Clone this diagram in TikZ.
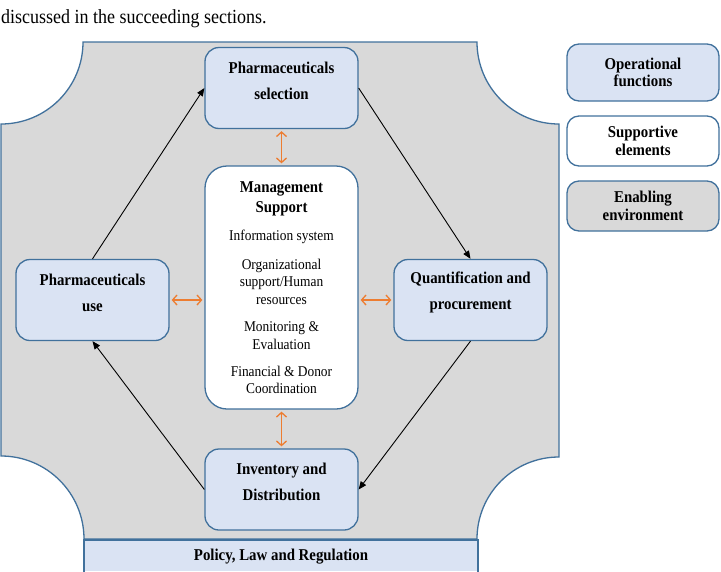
\documentclass[tikz,border=0pt]{standalone}
\usepackage{fontspec}
\setmainfont{Liberation Serif}[FakeStretch=0.9]
\usetikzlibrary{arrows.meta}
\definecolor{edge}{RGB}{65,113,156}
\definecolor{envfill}{RGB}{217,217,217}
\definecolor{opfill}{RGB}{218,227,243}
\definecolor{orng}{RGB}{237,125,49}
\begin{document}
\begin{tikzpicture}[x=1pt,y=-1pt,
  basebox/.style={draw=edge, line width=1.3pt, inner sep=0pt, minimum width=153pt},
  opbox/.style={basebox, fill=opfill, rounded corners=14pt, minimum height=81pt},
  supbox/.style={basebox, fill=white, rounded corners=22pt, minimum height=243pt},
  legbox/.style={basebox, rounded corners=12pt, minimum width=152pt, align=center,
    font=\fontsize{16.5}{17.5}\selectfont\bfseries},
  btxt/.style={align=center, inner sep=0pt, font=\fontsize{16.5}{26}\selectfont\bfseries},
  bstxt/.style={align=center, inner sep=0pt, font=\fontsize{16.5}{19.5}\selectfont\bfseries},
  ntxt/.style={align=center, inner sep=0pt, font=\fontsize{14.9}{17.5}\selectfont},
  flow/.style={-{Triangle[length=8pt,width=6.5pt]}, line width=0.9pt},
  link/.style={{Straight Barb[length=4.5pt,width=10pt]}-{Straight Barb[length=4.5pt,width=10pt]},
    draw=orng, line width=1.3pt, shorten <=2pt, shorten >=2pt}]
\useasboundingbox (0,0) rectangle (721,571);

% top text
\node[anchor=west, inner sep=0pt, font=\fontsize{20}{24}\selectfont] (intro) at (1,18.5)
  {discussed in the succeeding sections.};

% enabling environment (plaque with concave corners)
\path[fill=envfill, draw=edge, line width=1.3pt]
  (83,42) -- (477,42)
  .. controls (477,87.3) and (513.7,124) .. (559,124)
  -- (559,457)
  .. controls (513.7,457) and (477,493.7) .. (477,539)
  -- (84,539)
  .. controls (84,493.2) and (46.8,456) .. (1,456)
  -- (1,124)
  .. controls (46.3,124) and (83,87.3) .. (83,42) -- cycle;

% policy bar
\fill[opfill] (84,540) rectangle (478,571);
\draw[edge, line width=1.3pt] (84,572) -- (84,540) -- (478,540) -- (478,572);
\node[btxt] (policy) at (281,557) {Policy, Law and Regulation};

% operational boxes
\node[opbox] (sel) at (281.5,88) {};
\node[btxt] (seltxt) at (281.5,80.5) {Pharmaceuticals\\selection};
\node[opbox] (use) at (92.5,300) {};
\node[btxt] (usetxt) at (92.5,292.5) {Pharmaceuticals\\use};
\node[opbox] (quant) at (470.5,300) {};
\node[btxt] (quanttxt) at (470.5,292.5) {Quantification and\\procurement};
\node[opbox] (inv) at (281.5,489.5) {};
\node[btxt] (invtxt) at (281.5,482) {Inventory and\\Distribution};

% management support
\node[supbox] (mgmt) at (281.5,287.5) {};
\node[bstxt] (mgt1) at (281.5,199) {Management\\Support};
\node[ntxt] (mgt2) at (281.5,237) {Information system};
\node[ntxt] (mgt3) at (281.5,281.5) {Organizational\\support/Human\\resources};
\node[ntxt] (mgt4) at (281.5,335.5) {Monitoring \&\\Evaluation};
\node[ntxt] (mgt5) at (281.5,380) {Financial \& Donor\\Coordination};

% legend
\node[legbox, fill=opfill, minimum height=57pt] (legop) at (643,72.5) {Operational\\functions};
\node[legbox, fill=white, minimum height=50pt] (legsup) at (643,141) {Supportive\\elements};
\node[legbox, fill=envfill, minimum height=50pt] (legenv) at (643,206) {Enabling\\environment};

% cycle arrows
\draw[flow] (use.north) -- (sel.west);
\draw[flow] (sel.east) -- (quant.north);
\draw[flow] (quant.south) -- (inv.east);
\draw[flow] (inv.west) -- (use.south);

% support links
\draw[link] (sel.south) -- (mgmt.north);
\draw[link] (mgmt.south) -- (inv.north);
\draw[link] (use.east) -- (use.east -| mgmt.west);
\draw[link] (mgmt.east |- quant.west) -- (quant.west);
\end{tikzpicture}
\end{document}
